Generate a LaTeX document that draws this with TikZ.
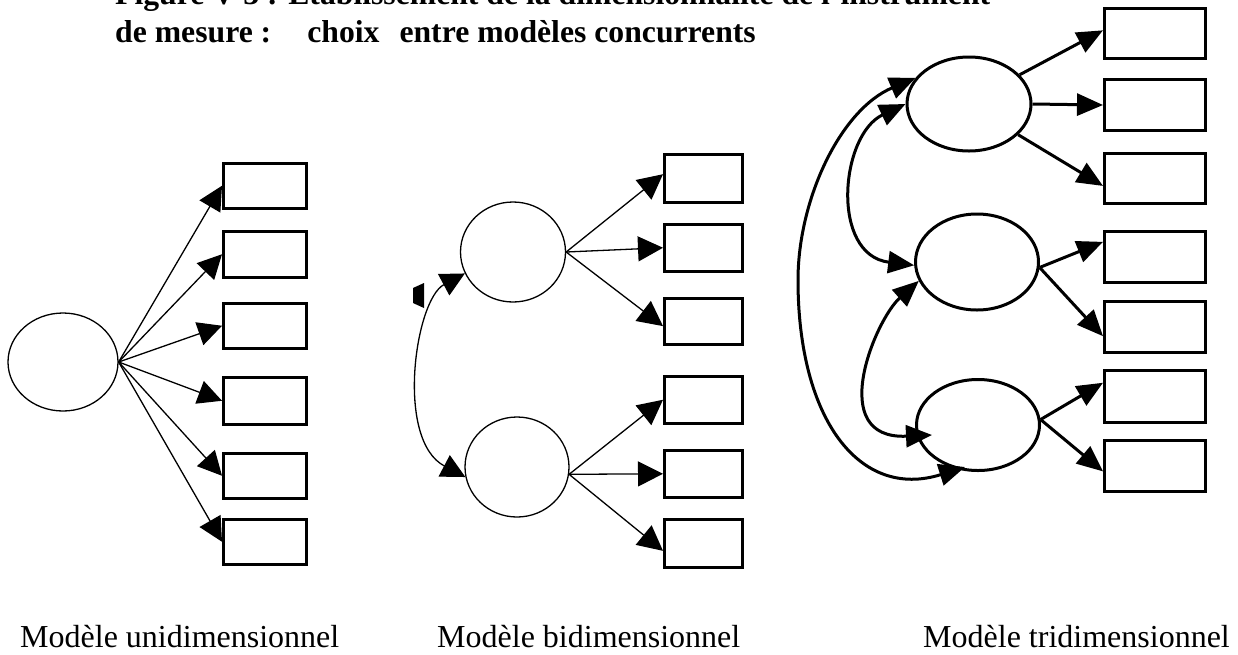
\documentclass[tikz,border=0pt]{standalone}
\usepackage{fontspec}
\setmainfont{Liberation Serif}
\usetikzlibrary{shapes.geometric,arrows.meta,calc}
\tikzset{
  lat/.style={ellipse,draw,line width=1.3pt,inner sep=0},
  latR/.style={ellipse,draw,line width=3pt,inner sep=0},
  obs/.style={draw,line width=2.5pt,inner sep=0,anchor=north west},
  obsR/.style={draw,line width=3pt,inner sep=0,anchor=north west},
  arr/.style={line width=1.3pt,-{Triangle[length=24pt,width=24pt]}},
  arrM/.style={line width=1.3pt,-{Triangle[length=25pt,width=25pt]}},
  arrR/.style={line width=3pt,-{Triangle[length=26pt,width=22pt]}},
  dbl/.style={line width=1.3pt,{Triangle[length=24pt,width=24pt]}-{Triangle[length=24pt,width=24pt]}},
  dblR/.style={line width=3pt,{Triangle[length=26pt,width=22pt]}-{Triangle[length=26pt,width=22pt]}},
  ttl/.style={anchor=base west,inner sep=0,font=\fontsize{31.7}{38}\selectfont\bfseries},
  captxt/.style={anchor=base west,inner sep=0,font=\fontsize{32}{38}\selectfont},
}
\begin{document}
\begin{tikzpicture}[x=1pt,y=-1pt]
\clip (0,0) rectangle (1238,654);
\fill[white] (0,0) rectangle (1238,654);
% title
\node[ttl] (t1) at (115,4) {Figure V-3 : Etablissement de la dimensionnalité de l'instrument};
\node[ttl] (t2) at (115,42) {de mesure :\hspace{36pt}choix\hspace{20pt}entre modèles concurrents};
% ---------- left model
\node[lat,minimum width=110,minimum height=98] (L) at (63,362) {};
\node[obs,minimum width=83,minimum height=45] (l1) at (222,162) {};
\node[obs,minimum width=83,minimum height=46] (l2) at (222,230) {};
\node[obs,minimum width=83,minimum height=45] (l3) at (222,302) {};
\node[obs,minimum width=83,minimum height=47] (l4) at (222,376) {};
\node[obs,minimum width=83,minimum height=45] (l5) at (222,452) {};
\node[obs,minimum width=83,minimum height=45] (l6) at (222,518) {};
\foreach \b in {l1,l2,l3,l4,l5,l6}
  \draw[arr] (L.east) -- (\b.west);
% ---------- middle model
\node[lat,minimum width=105,minimum height=100] (M1) at (513,252) {};
\node[lat,minimum width=104,minimum height=100] (M2) at (517,467) {};
\node[obs,minimum width=78,minimum height=48] (m1) at (663,153) {};
\node[obs,minimum width=78,minimum height=47] (m2) at (663,223) {};
\node[obs,minimum width=78,minimum height=46] (m3) at (663,297) {};
\node[obs,minimum width=78,minimum height=47] (m4) at (663,375) {};
\node[obs,minimum width=78,minimum height=47] (m5) at (663,449) {};
\node[obs,minimum width=78,minimum height=48] (m6) at (663,518) {};
\draw[arrM] (M1.east) -- ($(m1.north west)!0.42!(m1.south west)$);
\draw[arrM] (M1.east) -- (m2.west);
\draw[arrM] (M1.east) -- ($(m3.north west)!0.6!(m3.south west)$);
\draw[arrM] (M2.-8) -- (m4.west);
\draw[arrM] (M2.-8) -- (m5.west);
\draw[arrM] (M2.-8) -- ($(m6.north west)!0.65!(m6.south west)$);
\draw[dbl] (M1.204) .. controls (415,300) and (395,440) .. (M2.191);
\fill (413,288) -- (424,283) -- (424,308) -- (413,303) -- cycle;
% ---------- right model
\node[latR,minimum width=124,minimum height=94] (R1) at (969,104) {};
\node[latR,minimum width=123,minimum height=96] (R2) at (977,262) {};
\node[latR,minimum width=123,minimum height=91] (R3) at (978,425) {};
\node[obsR,minimum width=101,minimum height=50] (r1) at (1103,7) {};
\node[obsR,minimum width=101,minimum height=51] (r2) at (1103,78) {};
\node[obsR,minimum width=101,minimum height=50] (r3) at (1103,152) {};
\node[obsR,minimum width=101,minimum height=51] (r4) at (1103,230) {};
\node[obsR,minimum width=101,minimum height=51] (r5) at (1103,300) {};
\node[obsR,minimum width=101,minimum height=52] (r6) at (1103,369) {};
\node[obsR,minimum width=101,minimum height=51] (r7) at (1103,439) {};
\draw[arrR] (R1.30) -- ($(r1.north west)!0.44!(r1.south west)$);
\draw[arrR] (R1.east) -- (r2.west);
\draw[arrR] (R1.-32) -- ($(r3.north west)!0.64!(r3.south west)$);
\draw[arrR] (R2.-5) -- ($(r4.north west)!0.22!(r4.south west)$);
\draw[arrR] (R2.-5) -- ($(r5.north west)!0.67!(r5.south west)$);
\draw[arrR] (R3.5) -- ($(r6.north west)!0.25!(r6.south west)$);
\draw[arrR] (R3.5) -- ($(r7.north west)!0.6!(r7.south west)$);
\coordinate (c2end) at ($(R3.center)+(-46,10)$);
\coordinate (c3end) at ($(R3.center)+(-13,42)$);
\draw[dblR] (R1.west) .. controls (840,135) and (830,255) .. (R2.183);
\draw[dblR] (R2.198) .. controls (875,320) and (825,440) .. (c2end);
\draw[dblR] (R1.154) .. controls (840,110) and (798,200) .. (798,280)
  .. controls (798,420) and (860,500) .. (c3end);
% captions
\node[captxt] (k1) at (20,647) {Modèle unidimensionnel};
\node[captxt] (k2) at (437,647) {Modèle bidimensionnel};
\node[captxt] (k3) at (923,647) {Modèle tridimensionnel};
\end{tikzpicture}
\end{document}
